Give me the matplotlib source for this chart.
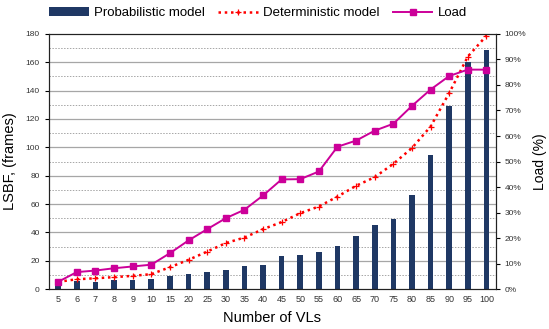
import numpy as np
import matplotlib.pyplot as plt
from matplotlib.ticker import MultipleLocator, PercentFormatter

plt.rcParams['font.family'] = ['Liberation Sans', 'DejaVu Sans']

vls = ['5', '6', '7', '8', '9', '10', '15', '20', '25', '30', '35', '40',
       '45', '50', '55', '60', '65', '70', '75', '80', '85', '90', '95', '100']

# LSBF (frames), probabilistic model bars
probabilistic = [4, 6, 5.4, 6.5, 6.5, 7.5, 9.4, 10.6, 12.4, 13.8, 16.4, 17.4,
                 23.5, 24.4, 26.3, 30.5, 37.6, 45.4, 49.4, 66.3, 94.5, 129.4, 160, 168.4]
# LSBF (frames), deterministic model
deterministic = [5.2, 7, 7.7, 8.5, 9.4, 10.6, 15.5, 20.7, 26.5, 32.5, 36.4, 42.3,
                 47.3, 53.6, 58.3, 65.3, 72.9, 79, 88.4, 99.5, 114.7, 138.3, 164, 178.7]
# load in percent (right axis)
load = [2.9, 6.7, 7.3, 8.2, 8.9, 9.6, 14.1, 19.1, 23.5, 27.8, 31.1, 36.7,
        43, 43.1, 46.1, 55.8, 58.2, 62.1, 64.8, 71.8, 78.2, 83.5, 86, 86]

fig = plt.figure(figsize=(5.49, 3.29), dpi=100)
ax = fig.add_axes([0.089, 0.121, 0.814, 0.776])
ax2 = ax.twinx()

x = np.arange(len(vls))

# grid: solid every 20, dotted in between
for v in range(10, 180, 10):
    if v % 20 == 0:
        ax.axhline(v, color='#a6a6a6', lw=0.9, zorder=0)
    else:
        ax.axhline(v, color='#a6a6a6', lw=0.7, ls=(0, (1.5, 1.5)), zorder=0)

bars = ax.bar(x, probabilistic, width=0.3, color='#1f3864', zorder=2)
det, = ax.plot(x, deterministic, color='#ff0000', ls=(0, (1, 1.5)), lw=1.8,
               marker='+', ms=4, mew=0.9, zorder=3)
ld, = ax2.plot(x, load, color='#cc0099', lw=1.4, marker='s', ms=4, zorder=4)

ax.set_xlim(-0.5, len(vls) - 0.5)
ax.set_ylim(0, 180)
ax2.set_ylim(0, 100)
ax.set_xticks(x)
ax.set_xticklabels(vls, fontsize=6.5, color='#333333')
ax.tick_params(axis='x', length=0, pad=4)
ax.yaxis.set_major_locator(MultipleLocator(20))
ax.tick_params(axis='y', labelsize=6, length=3, labelcolor='#333333')
ax2.yaxis.set_major_locator(MultipleLocator(10))
ax2.yaxis.set_major_formatter(PercentFormatter(decimals=0))
ax2.tick_params(axis='y', labelsize=6, length=3, labelcolor='#333333')

ax.set_xlabel('Number of VLs', fontsize=10.5, labelpad=5)
ax.set_ylabel('LSBF, (frames)', fontsize=10.5, labelpad=6)
ax2.set_ylabel('Load (%)', fontsize=10)
ax2.yaxis.set_label_coords(1.083, 0.5)

for a in (ax, ax2):
    for s in a.spines.values():
        s.set_linewidth(0.8)
        s.set_color('#222222')

fig.legend([bars, det, ld], ['Probabilistic model', 'Deterministic model', 'Load'],
           loc='center', bbox_to_anchor=(0.47, 0.96), ncol=3, frameon=False,
           fontsize=9.5, handlelength=3.0, columnspacing=1.0, handletextpad=0.4)

fig.savefig('out.png', dpi=100)
